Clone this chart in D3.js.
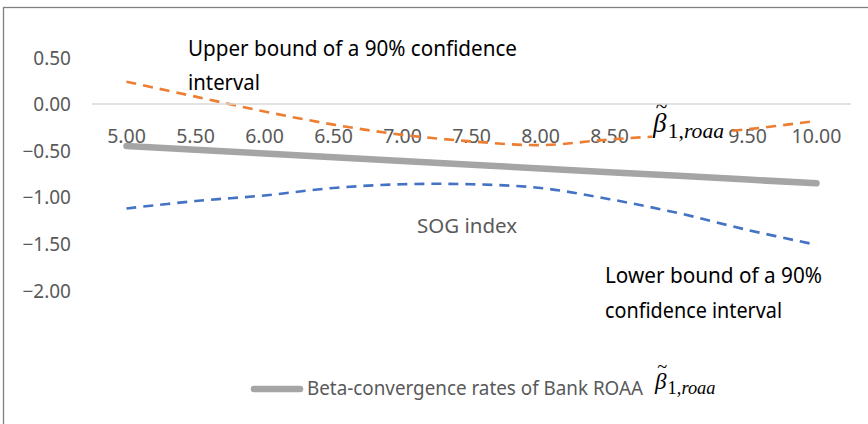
<!DOCTYPE html>
<html><head><meta charset="utf-8">
<script src="https://cdn.jsdelivr.net/npm/d3@7"></script>
<style>
html,body{margin:0;padding:0;background:#fff;}
svg{display:block;}
text{font-family:"Noto Sans",sans-serif;}
</style></head>
<body>
<svg id="chart" width="868" height="424"></svg>
<script>
// ---- data ----
const categories = ["5.00","5.50","6.00","6.50","7.00","7.50","8.00","8.50","9.00","9.50","10.00"];
const betaRate   = [-0.45,-0.49,-0.53,-0.57,-0.61,-0.65,-0.69,-0.73,-0.77,-0.81,-0.85];
const upperBound = [0.24,0.08,-0.08,-0.22,-0.33,-0.40,-0.44,-0.38,-0.33,-0.27,-0.18];
const lowerBound = [-1.12,-1.04,-0.98,-0.90,-0.86,-0.86,-0.90,-1.02,-1.17,-1.35,-1.51];
const yTicks = [0.5,0,-0.5,-1,-1.5,-2];
const yDomain = [-2,0.5];

const svg = d3.select("#chart");
svg.append("rect").attr("width",868).attr("height",424).attr("fill","#fff");
// outer border (right/bottom cropped)
svg.append("rect").attr("x",3.5).attr("y",7.5).attr("width",900).attr("height",500)
  .attr("fill","none").attr("stroke","#808080").attr("stroke-width",1.3);

const x = d3.scaleBand().domain(categories).range([92,851]);
const y = d3.scaleLinear().domain(yDomain).range([290.5,57.5]);
const xc = d => x(d)+x.bandwidth()/2;

// y-axis labels
const yAxis = d3.axisLeft(y).tickValues(yTicks).tickFormat(d3.format(".2f")).tickSize(0).tickPadding(0);
const yg = svg.append("g").attr("transform","translate(71,0)").call(yAxis);
yg.select(".domain").remove();
yg.selectAll("text").attr("fill","#595959").style("font-size","19px")
  .style("font-family","'Noto Sans',sans-serif").attr("dy","0.35em");

// x-axis labels (positioned below the zero line)
const xAxis = d3.axisBottom(x).tickSize(0).tickPadding(0);
const xg = svg.append("g").attr("transform","translate(0,"+(y(0))+")").call(xAxis);
xg.select(".domain").remove();
xg.selectAll("text").attr("fill","#595959").style("font-size","19.5px")
  .style("font-family","'Noto Sans',sans-serif").attr("dy",null).attr("y",39);

// lines
const smooth = d3.line().x((d,i)=>xc(categories[i])).y(d=>y(d)).curve(d3.curveCatmullRom.alpha(0.5));
const straight = d3.line().x((d,i)=>xc(categories[i])).y(d=>y(d));

svg.append("path").datum(upperBound).attr("d",smooth).attr("fill","none")
  .attr("stroke","#ed7d31").attr("stroke-width",2.6).attr("stroke-dasharray","10,7");
svg.append("path").datum(lowerBound).attr("d",smooth).attr("fill","none")
  .attr("stroke","#4472c4").attr("stroke-width",2.6).attr("stroke-dasharray","10,7");
svg.append("path").datum(betaRate).attr("d",straight).attr("fill","none")
  .attr("stroke","#a5a5a5").attr("stroke-width",6.5).attr("stroke-linecap","round");

// annotations
function txt(s,xx,yy,len,size,fill){
  return svg.append("text").attr("x",xx).attr("y",yy).text(s)
    .attr("fill",fill).style("font-size",size+"px")
    .attr("textLength",len).attr("lengthAdjust","spacingAndGlyphs");
}
txt("Upper bound of a 90% confidence",188,56,329,22,"#000");
txt("interval",188,90,72,22,"#000");
txt("Lower bound of a 90%",605,283,217,22,"#000");
txt("confidence interval",605,318,177,22,"#000");
txt("SOG index",417,233,100,20,"#595959");

// beta symbol label (beta with tilde, subscript 1,roaa)
function beta(xx,yy,size,boxW){
  const g = svg.append("g");
  if (boxW) g.append("rect").attr("x",xx-1).attr("y",yy-size*0.95).attr("width",boxW).attr("height",size*1.45).attr("fill","#fff");
  g.append("text").attr("x",xx+size*0.1).attr("y",yy-size*0.7).text("~")
    .style("font-family","'Liberation Serif',serif").style("font-size",(size*0.8)+"px").attr("fill","#000");
  const t = g.append("text").attr("x",xx).attr("y",yy)
    .style("font-family","'Liberation Serif',serif").attr("fill","#000");
  t.append("tspan").text("\u03B2").style("font-style","italic").style("font-size",size+"px");
  t.append("tspan").text("1,").attr("dx",size*0.05).attr("dy",size*0.22).style("font-size",(size*0.8)+"px");
  t.append("tspan").text("roaa").style("font-style","italic").style("font-size",(size*0.8)+"px");
  return g;
}
beta(653,132,27,74);

// zero line (category axis crossing at 0), drawn above the label box
svg.append("line").attr("x1",92).attr("x2",851).attr("y1",y(0)).attr("y2",y(0))
  .attr("stroke","#d9d9d9").attr("stroke-width",1.5);

// legend
svg.append("line").attr("x1",254).attr("x2",300).attr("y1",389).attr("y2",389)
  .attr("stroke","#a5a5a5").attr("stroke-width",6.5).attr("stroke-linecap","round");
txt("Beta-convergence rates of Bank ROAA",307,395,336,20,"#595959");
beta(655,389,23,0);
</script>
</body></html>
